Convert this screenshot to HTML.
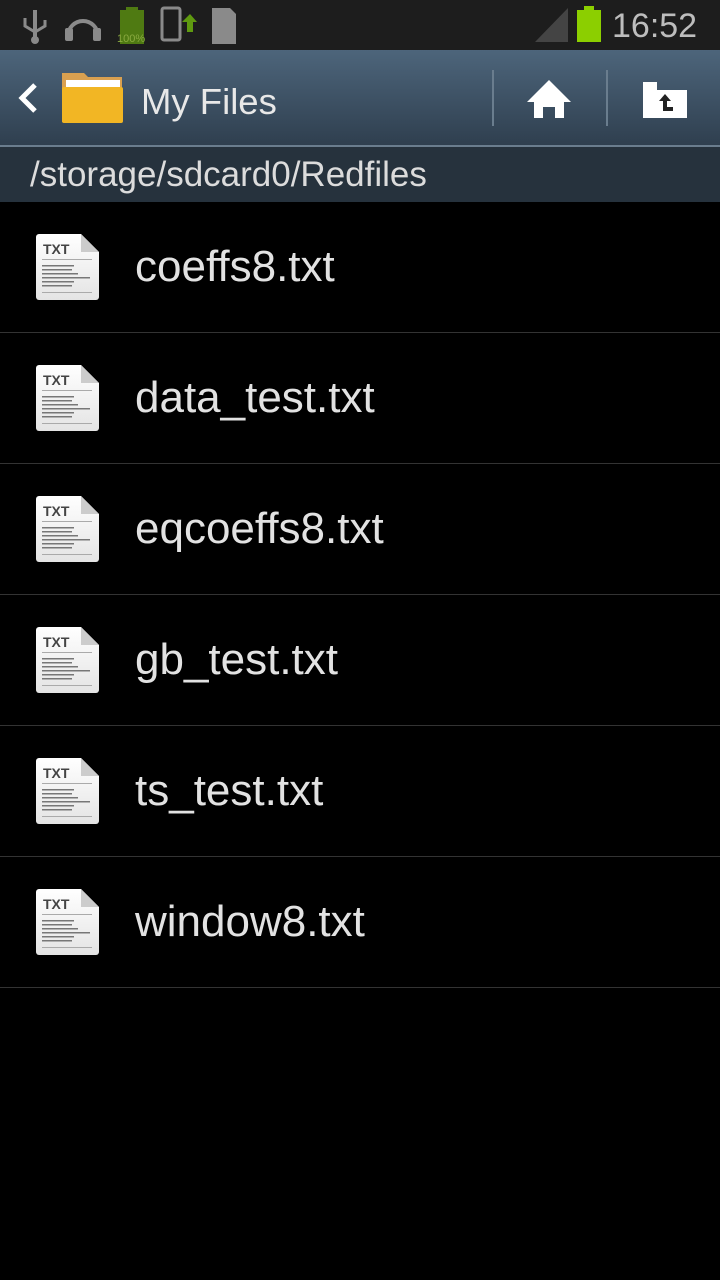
<!DOCTYPE html>
<html><head><style>
body{margin:0;width:720px;height:1280px;background:#000;font-family:"Liberation Sans",sans-serif;overflow:hidden;position:relative}
.sb{position:absolute;top:0;left:0;width:720px;height:50px;background:#1d1d1d}
.ab{position:absolute;top:50px;left:0;width:720px;height:95px;background:linear-gradient(#4d657b,#2f3f4f)}
.sep{position:absolute;top:145px;left:0;width:720px;height:2px;background:#6a7d8e}
.pb{position:absolute;top:147px;left:0;width:720px;height:55px;background:#26323d;color:#dcdcdc;font-size:35px;line-height:55px;padding-left:30px;box-sizing:border-box}
.row{position:absolute;left:0;width:720px;height:130px;border-bottom:1px solid #333}
.row .t{position:absolute;left:135px;top:0;line-height:130px;font-size:44px;color:#e2e2e2}
.ic{position:absolute;left:36px;top:32px;width:63px;height:66px}
</style></head><body>
<div class="sb">
<svg width="720" height="50">
<g fill="#8a8a8a">
<rect x="33" y="10" width="4" height="32"/><circle cx="35" cy="40" r="4"/>
<path d="M25 18 v8 l10 6 l10 -6 v-6" stroke="#8a8a8a" stroke-width="3" fill="none"/>
<path d="M68 36 a15 15 0 1 1 30 0" stroke="#8a8a8a" stroke-width="4" fill="none"/>
<rect x="65" y="28" width="8" height="13" rx="2"/><rect x="93" y="28" width="8" height="13" rx="2"/>
<rect x="120" y="10" width="24" height="34" fill="#4f7a12"/><rect x="126" y="7" width="12" height="4" fill="#4f7a12"/>
<text x="117" y="42" font-size="11" fill="#8aaa40" font-family="Liberation Sans">100%</text>
<rect x="162" y="8" width="18" height="32" rx="2" fill="none" stroke="#8a8a8a" stroke-width="3"/>
<path d="M182 22 l8 -8 l7 8 h-4 v10 h-6 v-10z" fill="#5f9a10"/>
<path d="M212 8 h18 l6 6 v30 h-24z"/>
<path d="M535 42 L568 8 V42Z" fill="#444"/>
<rect x="577" y="10" width="24" height="32" fill="#8ccf00"/><rect x="584" y="6" width="10" height="5" fill="#8ccf00"/>
</g>
<text x="612" y="37" font-size="34" fill="#bdbdbd" font-family="Liberation Sans">16:52</text>
</svg></div>
<div class="ab">
<svg width="720" height="95">
<path d="M35 35 L22 48 L35 61" stroke="#fff" stroke-width="5" fill="none"/>
<path d="M62 23 h22 l4 4 h34 v45 h-60z" fill="#d9a050"/>
<rect x="66" y="30" width="54" height="10" fill="#fff"/>
<rect x="62" y="37" width="61" height="36" rx="2" fill="#f2b624"/>
<text x="141" y="64" font-size="36.5" fill="#e8e8e8" font-family="Liberation Sans">My Files</text>
<rect x="492" y="20" width="2" height="56" fill="#6a7d8e"/>
<rect x="606" y="20" width="2" height="56" fill="#6a7d8e"/>
<path d="M549 30 L571 52 H564 V68 H555 V57 H543 V68 H534 V52 H527Z" fill="#fff"/>
<path d="M643 32 h14 v8 h30 v28 h-44z" fill="#fff"/>
<path d="M665 44 l-6 7 h4 v10 h10 v-4 h-6 v-6 h4z" fill="#222"/>
</svg></div>
<div class="sep"></div>
<div class="pb">/storage/sdcard0/Redfiles</div>

<svg width="0" height="0" style="position:absolute"><defs>
<g id="ic">
<defs><linearGradient id="g" x1="0" y1="0" x2="0" y2="1"><stop offset="0" stop-color="#fff"/><stop offset="1" stop-color="#e4e4e4"/></linearGradient></defs>
<path d="M3 0 H45 L63 18 V63 a3 3 0 0 1 -3 3 H3 a3 3 0 0 1 -3 -3 V3 a3 3 0 0 1 3 -3z" fill="url(#g)"/>
<path d="M45 0 V18 H63z" fill="#ccc"/>
<text x="7" y="20" font-size="14" font-weight="bold" fill="#444" font-family="Liberation Sans">TXT</text>
<rect x="6" y="25" width="50" height="1" fill="#aaa"/>
<g fill="#777"><rect x="6" y="31" width="32" height="1.5"/><rect x="6" y="35" width="30" height="1.5"/><rect x="6" y="39" width="36" height="1.5"/><rect x="6" y="43" width="48" height="1.5"/><rect x="6" y="47" width="32" height="1.5"/><rect x="6" y="51" width="30" height="1.5"/></g>
<rect x="6" y="58" width="50" height="1" fill="#aaa"/>
</g></defs></svg>

<div class="row" style="top:202px"><svg class="ic"><use href="#ic"/></svg><div class="t">coeffs8.txt</div></div>
<div class="row" style="top:333px"><svg class="ic"><use href="#ic"/></svg><div class="t">data_test.txt</div></div>
<div class="row" style="top:464px"><svg class="ic"><use href="#ic"/></svg><div class="t">eqcoeffs8.txt</div></div>
<div class="row" style="top:595px"><svg class="ic"><use href="#ic"/></svg><div class="t">gb_test.txt</div></div>
<div class="row" style="top:726px"><svg class="ic"><use href="#ic"/></svg><div class="t">ts_test.txt</div></div>
<div class="row" style="top:857px"><svg class="ic"><use href="#ic"/></svg><div class="t">window8.txt</div></div>
</body></html>
